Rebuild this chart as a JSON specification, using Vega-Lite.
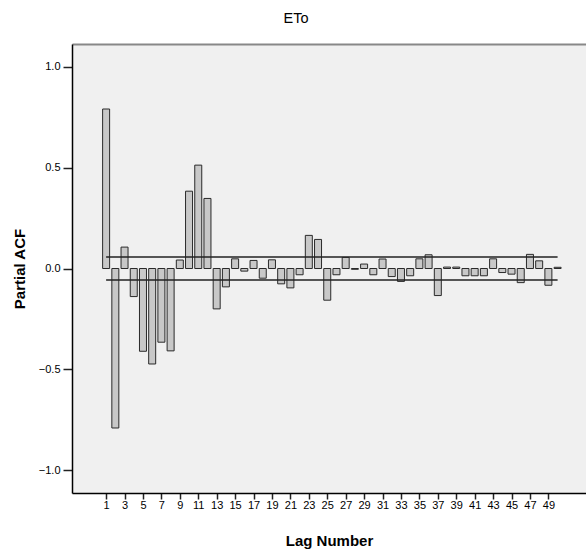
{
  "$schema": "https://vega.github.io/schema/vega-lite/v6.json",
  "width": 514,
  "height": 449,
  "autosize": "none",
  "padding": {"left": 72, "top": 44, "right": 0, "bottom": 60},
  "background": "white",
  "config": {
    "view": {"stroke": null, "fill": "#f0f0f0"},
    "font": "Liberation Sans"
  },
  "title": {
    "text": "ETo",
    "fontSize": 14.5,
    "fontWeight": "normal",
    "font": "Liberation Sans",
    "color": "black",
    "anchor": "middle",
    "dx": -33,
    "offset": 18
  },
  "resolve": {"axis": {"x": "independent"}},
  "layer": [
    {
      "data": {
        "values": [
          {"lag": 1, "pacf": 0.79}, {"lag": 2, "pacf": -0.79}, {"lag": 3, "pacf": 0.106},
          {"lag": 4, "pacf": -0.139}, {"lag": 5, "pacf": -0.41}, {"lag": 6, "pacf": -0.473},
          {"lag": 7, "pacf": -0.365}, {"lag": 8, "pacf": -0.408}, {"lag": 9, "pacf": 0.042},
          {"lag": 10, "pacf": 0.383}, {"lag": 11, "pacf": 0.512}, {"lag": 12, "pacf": 0.347},
          {"lag": 13, "pacf": -0.2}, {"lag": 14, "pacf": -0.091}, {"lag": 15, "pacf": 0.048},
          {"lag": 16, "pacf": -0.013}, {"lag": 17, "pacf": 0.04}, {"lag": 18, "pacf": -0.048},
          {"lag": 19, "pacf": 0.043}, {"lag": 20, "pacf": -0.076}, {"lag": 21, "pacf": -0.096},
          {"lag": 22, "pacf": -0.031}, {"lag": 23, "pacf": 0.164}, {"lag": 24, "pacf": 0.144},
          {"lag": 25, "pacf": -0.157}, {"lag": 26, "pacf": -0.031}, {"lag": 27, "pacf": 0.055},
          {"lag": 28, "pacf": -0.004}, {"lag": 29, "pacf": 0.022}, {"lag": 30, "pacf": -0.031},
          {"lag": 31, "pacf": 0.047}, {"lag": 32, "pacf": -0.04}, {"lag": 33, "pacf": -0.064},
          {"lag": 34, "pacf": -0.036}, {"lag": 35, "pacf": 0.048}, {"lag": 36, "pacf": 0.068},
          {"lag": 37, "pacf": -0.134}, {"lag": 38, "pacf": 0.007}, {"lag": 39, "pacf": 0.007},
          {"lag": 40, "pacf": -0.036}, {"lag": 41, "pacf": -0.036}, {"lag": 42, "pacf": -0.036},
          {"lag": 43, "pacf": 0.048}, {"lag": 44, "pacf": -0.02}, {"lag": 45, "pacf": -0.028},
          {"lag": 46, "pacf": -0.07}, {"lag": 47, "pacf": 0.07}, {"lag": 48, "pacf": 0.038},
          {"lag": 49, "pacf": -0.083}, {"lag": 50, "pacf": 0.006}
        ]
      },
      "mark": {"type": "bar", "size": 7, "fill": "#c8c8c8", "stroke": "#2a2a2a", "strokeWidth": 1},
      "encoding": {
        "x": {
          "field": "lag",
          "type": "quantitative",
          "scale": {"domain": [-2.16, 52.54], "nice": false, "zero": false},
          "axis": {
            "orient": "bottom",
            "values": [1,3,5,7,9,11,13,15,17,19,21,23,25,27,29,31,33,35,37,39,41,43,45,47,49],
            "grid": false,
            "labelAngle": 0,
            "labelOverlap": false,
            "labelFontSize": 11,
            "labelColor": "black",
            "labelPadding": 0,
            "labelFlush": false,
            "tickSize": 6,
            "tickWidth": 1.5,
            "tickColor": "#222222",
            "domainColor": "black",
            "domainWidth": 1.5,
            "title": "Lag Number",
            "titleFontSize": 15,
            "titleFontWeight": "bold",
            "titleColor": "black",
            "titlePadding": 23
          }
        },
        "y": {
          "field": "pacf",
          "type": "quantitative",
          "scale": {"domain": [-1.112, 1.112], "nice": false},
          "axis": {
            "values": [-1, -0.5, 0, 0.5, 1],
            "format": ".1f",
            "grid": false,
            "labelFontSize": 11,
            "labelColor": "black",
            "labelPadding": 3,
            "tickSize": 9,
            "tickWidth": 1.5,
            "tickColor": "#222222",
            "domainColor": "black",
            "domainWidth": 1.5,
            "title": "Partial ACF",
            "titleFontSize": 15,
            "titleFontWeight": "bold",
            "titleColor": "black",
            "titlePadding": 11
          }
        }
      }
    },
    {
      "data": {
        "values": [
          {"from": 1, "to": 50, "limit": 0.057},
          {"from": 1, "to": 50, "limit": -0.057}
        ]
      },
      "mark": {"type": "rule", "color": "#222222", "strokeWidth": 1.5},
      "encoding": {
        "x": {
          "field": "from",
          "type": "quantitative",
          "axis": {"orient": "top", "labels": false, "ticks": false, "title": null, "grid": false, "domainColor": "#888888", "domainWidth": 2}
        },
        "x2": {"field": "to"},
        "y": {"field": "limit", "type": "quantitative"}
      }
    },
    {
      "mark": {"type": "rule", "color": "#111111", "strokeWidth": 1.5},
      "encoding": {
        "y": {"datum": 0, "type": "quantitative"}
      }
    }
  ]
}
